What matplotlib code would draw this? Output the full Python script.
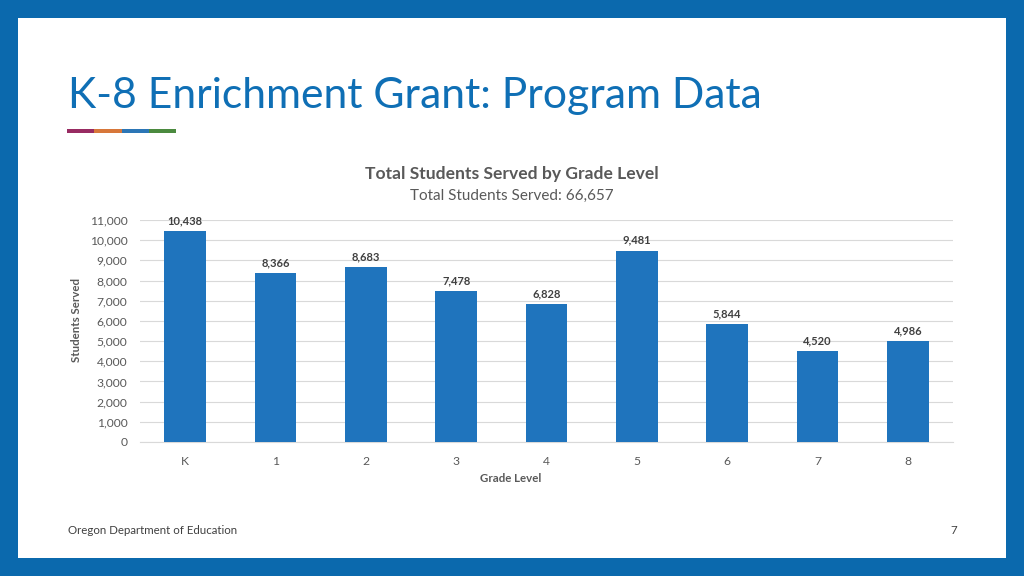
import matplotlib
matplotlib.use("Agg")
import matplotlib.pyplot as plt
from matplotlib.patches import Rectangle
from matplotlib.ticker import FuncFormatter

grades = ["K", "1", "2", "3", "4", "5", "6", "7", "8"]
students = [10438, 8366, 8683, 7478, 6828, 9481, 5844, 4520, 4986]
total_served = 66657

FONT = ["Lato", "DejaVu Sans"]
BLUE = "#1f74bd"
FRAME = "#0b69ad"
GREY = "#595959"

fig = plt.figure(figsize=(10.24, 5.76), dpi=100, facecolor=FRAME)

# white slide panel
fig.patches.append(Rectangle((18 / 1024, 1 - 558 / 576), (1006 - 18) / 1024, (558 - 18) / 576,
                             transform=fig.transFigure, facecolor="white",
                             edgecolor="none", zorder=-5))

# slide title
fig.text(68 / 1024, 1 - 96 / 576, "K-8 Enrichment Grant: Program Data",
         fontsize=30.7, color="#0f6fb5", family=FONT, va="center", ha="left")

# coloured underline
seg_colors = ["#982b62", "#d7773a", "#2c76b6", "#4b8a3f"]
x0, seg_w = 67, 27.25
for i, c in enumerate(seg_colors):
    fig.patches.append(Rectangle(((x0 + i * seg_w) / 1024, 1 - 132.5 / 576), seg_w / 1024, 3 / 576,
                                 transform=fig.transFigure, facecolor=c, edgecolor="none"))

# chart
ax_l, ax_r, ax_t, ax_b = 140, 953, 220, 442
ax = fig.add_axes([ax_l / 1024, 1 - ax_b / 576, (ax_r - ax_l) / 1024, (ax_b - ax_t) / 576])
ax.set_zorder(2)
ax.patch.set_alpha(0)
x = range(len(grades))
bars = ax.bar(x, students, width=0.46, color=BLUE, zorder=3)
ax.set_xlim(-0.5, len(grades) - 0.5)
ax.set_ylim(0, 11000)
ax.set_yticks(range(0, 11001, 1000))
ax.yaxis.set_major_formatter(FuncFormatter(lambda v, _: f"{int(v):,}"))
ax.set_xticks(list(x))
ax.set_xticklabels(grades)
ax.grid(axis="y", color="#d9d9d9", linewidth=0.8, zorder=0)
for s in ["top", "right", "left"]:
    ax.spines[s].set_visible(False)
ax.spines["bottom"].set_color("#d9d9d9")
ax.tick_params(axis="both", length=0, labelsize=8.7, labelcolor=GREY)
ax.tick_params(axis="x", pad=10)
ax.tick_params(axis="y", pad=9)
for lbl in ax.get_xticklabels() + ax.get_yticklabels():
    lbl.set_family(FONT)

for b, v in zip(bars, students):
    ax.annotate(f"{v:,}", (b.get_x() + b.get_width() / 2, v), xytext=(0, 3.5),
                textcoords="offset points", ha="center", va="bottom",
                fontsize=8, fontweight="bold", color="#404040", family=FONT)

ax.set_xlabel("Grade Level", fontsize=8.3, fontweight="bold", color=GREY, family=FONT)
ax.set_ylabel("Students Served", fontsize=8.3, fontweight="bold", color=GREY, family=FONT)
ax.xaxis.set_label_coords((511 - ax_l) / (ax_r - ax_l), -(478 - ax_b) / (ax_b - ax_t))
ax.yaxis.set_label_coords(-(ax_l - 77) / (ax_r - ax_l), (ax_b - 320) / (ax_b - ax_t))
ax.xaxis.label.set_va("center")
ax.yaxis.label.set_va("center")

fig.text(512 / 1024, 1 - 174 / 576, "Total Students Served by Grade Level",
         fontsize=12.6, fontweight="bold", color=GREY, family=FONT, ha="center", va="center")
fig.text(512 / 1024, 1 - 196 / 576, f"Total Students Served: {total_served:,}",
         fontsize=11, color=GREY, family=FONT, ha="center", va="center")

# footer
fig.text(68 / 1024, 1 - 531 / 576, "Oregon Department of Education",
         fontsize=8.3, color="#404040", family=FONT, ha="left", va="center")
fig.text(957 / 1024, 1 - 531 / 576, "7",
         fontsize=8.3, color="#404040", family=FONT, ha="right", va="center")

fig.savefig("out.png", dpi=100, facecolor=FRAME)
